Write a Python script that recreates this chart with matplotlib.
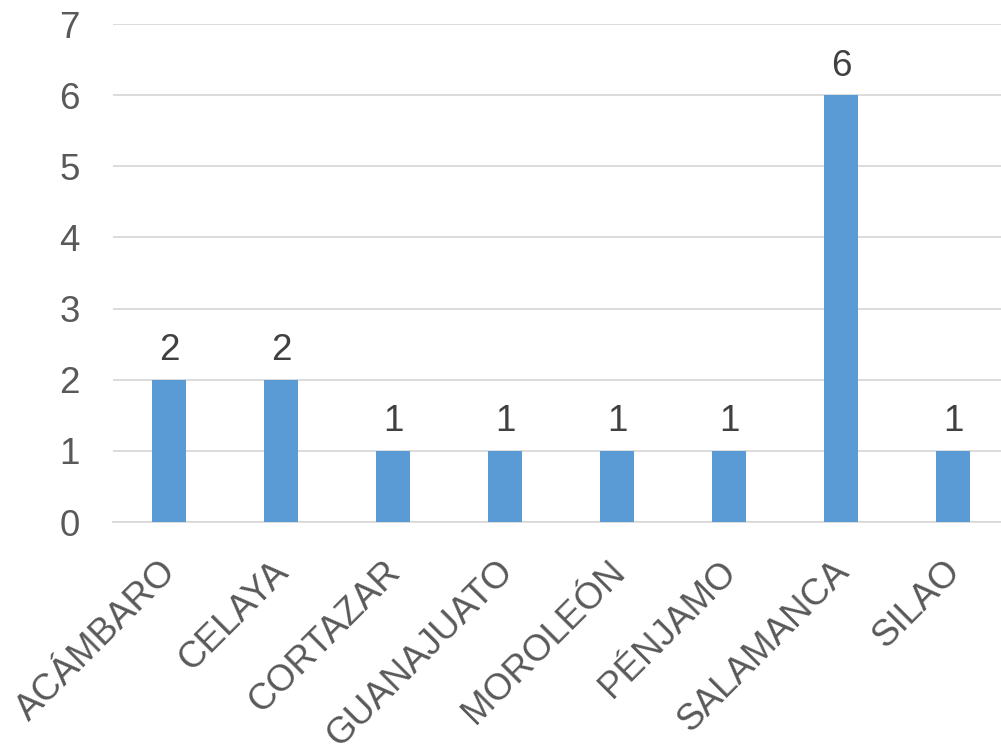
import matplotlib as mpl
mpl.use('Agg')
import matplotlib.pyplot as plt
from matplotlib.transforms import ScaledTranslation

mpl.rcParams.update({
    'font.family': ['Liberation Sans', 'DejaVu Sans'],
})

CATEGORIES = ['ACÁMBARO', 'CELAYA', 'CORTAZAR', 'GUANAJUATO',
              'MOROLEÓN', 'PÉNJAMO', 'SALAMANCA', 'SILAO']
VALUES = [2, 2, 1, 1, 1, 1, 6, 1]

BAR_COLOR = '#5B9BD5'
GRID_COLOR = '#D9D9D9'
TEXT_GREY = '#595959'
LABEL_DARK = '#404040'
FS = 26.5

fig = plt.figure(figsize=(10.01, 7.47), dpi=100)
# plot area in pixel terms: left ~113, y0 at 522, y7 at 24
ax = fig.add_axes([113 / 1001, (747 - 522) / 747, (1001 - 113) / 1001, (522 - 24) / 747])

x = range(len(CATEGORIES))
bars = ax.bar(x, VALUES, width=0.31, color=BAR_COLOR, zorder=3)

ax.set_xlim(-0.5, (1001 - 169) / 112)
ax.set_ylim(0, 7)
ax.set_yticks(range(0, 8))
ax.yaxis.grid(True, color=GRID_COLOR, lw=1.3, zorder=0)
ax.set_axisbelow(True)

for s in ['top', 'right', 'left']:
    ax.spines[s].set_visible(False)
ax.spines['bottom'].set_color(GRID_COLOR)
ax.spines['bottom'].set_linewidth(1.3)

ax.tick_params(axis='y', length=0, pad=24, labelsize=FS, labelcolor=TEXT_GREY)
ax.tick_params(axis='x', length=0, pad=23, labelsize=FS, labelcolor=TEXT_GREY)
ax.set_xticks(list(x))
ax.set_xticklabels(CATEGORIES, rotation=45, ha='right', rotation_mode='anchor')
shift = ScaledTranslation(-10 / 100, 0, fig.dpi_scale_trans)
for lab in ax.get_xticklabels():
    lab.set_transform(lab.get_transform() + shift)

for b, v in zip(bars, VALUES):
    ax.text(b.get_x() + b.get_width() / 2, v + 0.16, str(v),
            ha='center', va='bottom', fontsize=FS, color=LABEL_DARK)

fig.savefig('out.png', dpi=100)
